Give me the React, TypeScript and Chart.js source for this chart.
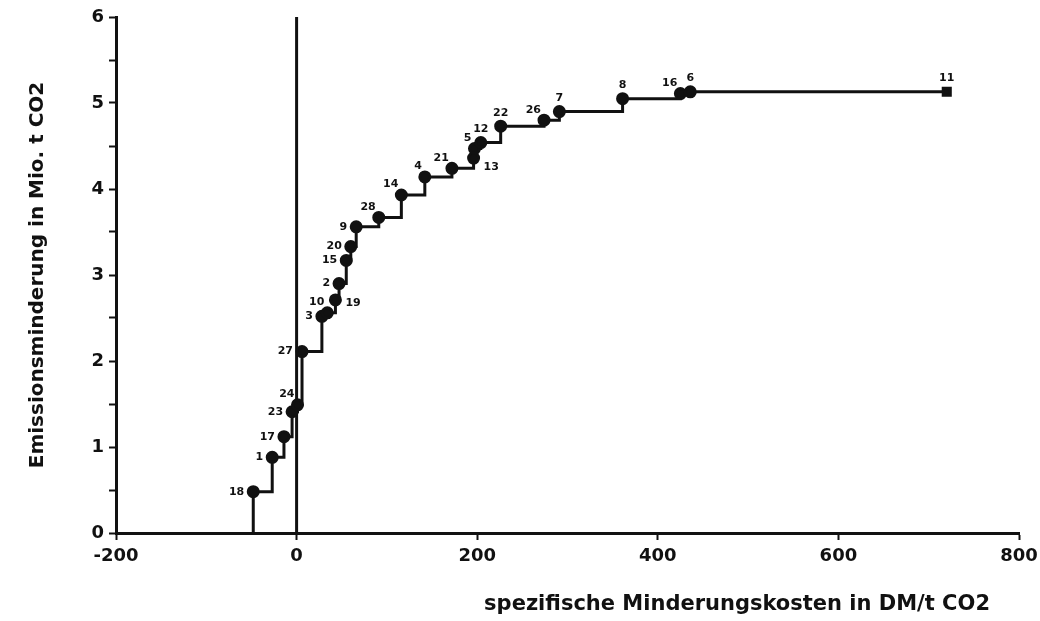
import React, { useEffect, useRef } from "react";
import { Chart, registerables } from "chart.js";

Chart.register(...registerables);

// Abatement measures, ordered by specific cost
const measureIds = ["18", "1", "17", "23", "24", "27", "3", "10", "19", "2", "15", "20", "9", "28", "14", "4", "21", "13", "5", "12", "22", "26", "7", "8", "16", "6", "11"];
// Specific abatement cost (DM/t CO2)
const costs = [-48, -27, -14, -5, 1, 6, 28, 34, 43, 47, 55, 60, 66, 91, 116, 142, 172, 196, 197, 204, 226, 274, 291, 361, 425, 436, 720];
// Cumulative emission reduction (Mio. t CO2)
const cumulative = [0.48, 0.88, 1.12, 1.41, 1.49, 2.11, 2.52, 2.56, 2.71, 2.9, 3.17, 3.33, 3.56, 3.67, 3.93, 4.14, 4.24, 4.36, 4.47, 4.54, 4.73, 4.8, 4.9, 5.05, 5.11, 5.13, 5.13];

const xTicks = [-200, 0, 200, 400, 600, 800];
const yTicks = [0, 1, 2, 3, 4, 5, 6];

const xTitle = "spezifische Minderungskosten in DM/t CO2";
const yTitle = "Emissionsminderung in Mio. t CO2";

// Where each measure's number sits relative to its marker
const labelSide: Record<string, string> = {
  "18": "left", "1": "left", "17": "left", "23": "left", "24": "aboveLeft", "27": "left",
  "3": "left", "10": "aboveLeft", "19": "right", "2": "left", "15": "left", "20": "left",
  "9": "left", "28": "aboveLeft", "14": "aboveLeft", "4": "aboveLeft", "21": "aboveLeft",
  "13": "belowRight", "5": "aboveLeft", "12": "above", "22": "above", "26": "aboveLeft",
  "7": "above", "8": "above", "16": "aboveLeft", "6": "above", "11": "above",
};

const FONT = "'DejaVu Sans', sans-serif";

const measureLabels = {
  id: "measureLabels",
  afterDatasetsDraw(chart: any) {
    const meta = chart.getDatasetMeta(0);
    const ctx = chart.ctx;
    ctx.save();
    ctx.fillStyle = "#111";
    ctx.font = `bold 11px ${FONT}`;
    meta.data.forEach((pt: any, i: number) => {
      if (i === 0) return;
      const id = measureIds[i - 1];
      const side = labelSide[id] || "above";
      let x = pt.x;
      let y = pt.y;
      if (side === "left") {
        ctx.textAlign = "right"; ctx.textBaseline = "middle"; x -= 9;
      } else if (side === "right") {
        ctx.textAlign = "left"; ctx.textBaseline = "middle"; x += 10; y += 3;
      } else if (side === "above") {
        ctx.textAlign = "center"; ctx.textBaseline = "bottom"; y -= 8;
      } else if (side === "aboveLeft") {
        ctx.textAlign = "right"; ctx.textBaseline = "bottom"; x -= 3; y -= 5;
      } else {
        ctx.textAlign = "left"; ctx.textBaseline = "top"; x += 10; y += 4;
      }
      ctx.fillText(id, x, y);
    });
    ctx.restore();
  },
};

const xAxisTitle = {
  id: "xAxisTitle",
  afterDraw(chart: any) {
    const { ctx, chartArea } = chart;
    ctx.save();
    ctx.fillStyle = "#111";
    ctx.font = `bold 21px ${FONT}`;
    ctx.textAlign = "right";
    ctx.textBaseline = "middle";
    ctx.fillText(xTitle, chartArea.right - 29, chartArea.bottom + 72);
    ctx.restore();
  },
};

export default function App() {
  const canvasRef = useRef<HTMLCanvasElement | null>(null);

  useEffect(() => {
    document.body.style.margin = "0";
    if (!canvasRef.current) return;
    const stepData = [{ x: costs[0], y: 0 }, ...costs.map((c, i) => ({ x: c, y: cumulative[i] }))];
    const chart = new Chart(canvasRef.current, {
      type: "line",
      data: {
        datasets: [
          {
            data: stepData,
            stepped: "before",
            borderColor: "#111",
            borderWidth: 3,
            backgroundColor: "#111",
            pointBackgroundColor: "#111",
            pointBorderColor: "#111",
            pointRadius: (c: any) => (c.dataIndex === 0 ? 0 : 5),
            pointStyle: (c: any) => (measureIds[c.dataIndex - 1] === "11" ? "rect" : "circle"),
            fill: false,
          },
          {
            data: [{ x: 0, y: 0 }, { x: 0, y: 6 }],
            borderColor: "#111",
            borderWidth: 3,
            pointRadius: 0,
            fill: false,
          },
        ],
      },
      options: {
        animation: false,
        responsive: true,
        maintainAspectRatio: false,
        layout: { padding: { top: 17, right: 21, left: 8, bottom: 0 } },
        plugins: { legend: { display: false }, tooltip: { enabled: false } },
        scales: {
          x: {
            type: "linear",
            min: -200,
            max: 800,
            afterFit: (s: any) => {
              s.height = 88;
              s.paddingLeft = 0;
              s.paddingRight = 0;
            },
            afterBuildTicks: (s: any) => { s.ticks = xTicks.map((v) => ({ value: v })); },
            border: { display: true, color: "#111", width: 3 },
            grid: { drawOnChartArea: false, drawTicks: true, tickLength: 7, tickWidth: 2, color: "#111" },
            ticks: { color: "#111", font: { family: FONT, size: 18, weight: "bold" }, padding: 6, maxRotation: 0 },
          },
          y: {
            type: "linear",
            min: 0,
            max: 6,
            afterFit: (s: any) => {
              s.width = 108;
              s.paddingTop = 0;
              s.paddingBottom = 0;
            },
            afterBuildTicks: (s: any) => {
              const t: any[] = [];
              for (let v = 0; v <= 6; v += 0.5) t.push({ value: v });
              s.ticks = t;
            },
            border: { display: true, color: "#111", width: 3 },
            grid: { drawOnChartArea: false, drawTicks: true, tickLength: 7, tickWidth: 2, color: "#111" },
            ticks: {
              color: "#111",
              font: { family: FONT, size: 18, weight: "bold" },
              padding: 5,
              callback: (v: any) => (yTicks.includes(Number(v)) ? String(v) : ""),
            },
            title: {
              display: true,
              text: yTitle,
              color: "#111",
              font: { family: FONT, size: 20, weight: "bold" },
              padding: { top: 18, bottom: 0 },
            },
          },
        },
      },
      plugins: [measureLabels, xAxisTitle],
    });
    return () => chart.destroy();
  }, []);

  return (
    <div style={{ width: 1040, height: 621, position: "relative" }}>
      <canvas ref={canvasRef} />
    </div>
  );
}
